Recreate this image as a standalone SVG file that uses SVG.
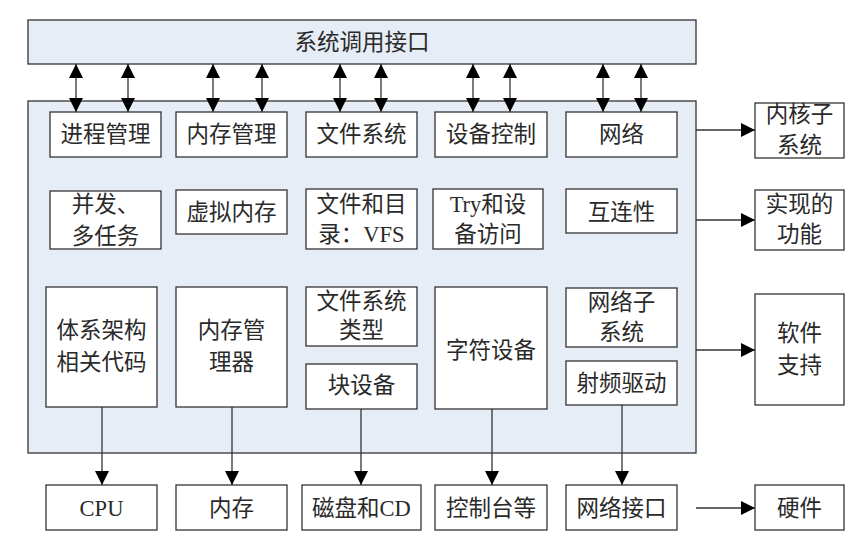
<svg xmlns="http://www.w3.org/2000/svg" width="864" height="542" viewBox="0 0 864 542">
<defs>
<style>
.panel{fill:#e7edf6;stroke:#333;stroke-width:1.3}
.box{fill:#fff;stroke:#333;stroke-width:1.3}
.t{font-family:"Liberation Serif","Noto Sans CJK SC",serif;font-size:22.5px;fill:#2a2a2a;text-anchor:middle;dominant-baseline:central}
.c{stroke:#333;stroke-width:1.3;fill:none}
</style>
<marker id="ah" viewBox="0 0 14 14" refX="14" refY="7" markerWidth="14" markerHeight="14" markerUnits="userSpaceOnUse" orient="auto-start-reverse">
<path d="M0,0 L14,7 L0,14 Z" fill="#000"/>
</marker>
</defs>
<rect width="864" height="542" fill="#fff"/>

<g id="syscall"><rect class="panel" x="28" y="20" width="668" height="44"/><text class="t" x="362" y="42">系统调用接口</text></g>
<g id="kernel"><rect class="panel" x="28" y="101" width="668" height="352"/></g>

<g id="connectors">
<line class="c" x1="76" y1="64" x2="76" y2="112" marker-start="url(#ah)" marker-end="url(#ah)"/>
<line class="c" x1="128" y1="64" x2="128" y2="112" marker-start="url(#ah)" marker-end="url(#ah)"/>
<line class="c" x1="213" y1="64" x2="213" y2="112" marker-start="url(#ah)" marker-end="url(#ah)"/>
<line class="c" x1="262" y1="64" x2="262" y2="112" marker-start="url(#ah)" marker-end="url(#ah)"/>
<line class="c" x1="340" y1="64" x2="340" y2="112" marker-start="url(#ah)" marker-end="url(#ah)"/>
<line class="c" x1="381" y1="64" x2="381" y2="112" marker-start="url(#ah)" marker-end="url(#ah)"/>
<line class="c" x1="473" y1="64" x2="473" y2="112" marker-start="url(#ah)" marker-end="url(#ah)"/>
<line class="c" x1="510" y1="64" x2="510" y2="112" marker-start="url(#ah)" marker-end="url(#ah)"/>
<line class="c" x1="603" y1="64" x2="603" y2="112" marker-start="url(#ah)" marker-end="url(#ah)"/>
<line class="c" x1="641" y1="64" x2="641" y2="112" marker-start="url(#ah)" marker-end="url(#ah)"/>
<line class="c" x1="696" y1="130" x2="755" y2="130" marker-end="url(#ah)"/>
<line class="c" x1="696" y1="220" x2="755" y2="220" marker-end="url(#ah)"/>
<line class="c" x1="696" y1="350" x2="755" y2="350" marker-end="url(#ah)"/>
<line class="c" x1="696" y1="508" x2="755" y2="508" marker-end="url(#ah)"/>
<line class="c" x1="102" y1="407" x2="102" y2="485" marker-end="url(#ah)"/>
<line class="c" x1="232" y1="407" x2="232" y2="485" marker-end="url(#ah)"/>
<line class="c" x1="361" y1="409" x2="361" y2="485" marker-end="url(#ah)"/>
<line class="c" x1="492" y1="409" x2="492" y2="485" marker-end="url(#ah)"/>
<line class="c" x1="622" y1="405" x2="622" y2="485" marker-end="url(#ah)"/>
</g>

<g id="n1"><rect class="box" x="50" y="112" width="111" height="45"/><text class="t" x="105.5" y="134">进程管理</text></g>
<g id="n2"><rect class="box" x="176" y="112" width="111" height="45"/><text class="t" x="231.5" y="134">内存管理</text></g>
<g id="n3"><rect class="box" x="306" y="112" width="111" height="45"/><text class="t" x="361.5" y="134">文件系统</text></g>
<g id="n4"><rect class="box" x="435" y="112" width="112" height="45"/><text class="t" x="491" y="134">设备控制</text></g>
<g id="n5"><rect class="box" x="566" y="112" width="111" height="45"/><text class="t" x="621.5" y="134">网络</text></g>
<g id="r1"><rect class="box" x="755" y="103" width="89" height="55"/><text class="t" x="799.5" y="114">内核子</text><text class="t" x="799.5" y="145">系统</text></g>

<g id="n6"><rect class="box" x="50" y="191" width="111" height="58"/><text class="t" x="105.5" y="204">并发、</text><text class="t" x="105.5" y="236">多任务</text></g>
<g id="n7"><rect class="box" x="176" y="190" width="111" height="44"/><text class="t" x="231.5" y="212">虚拟内存</text></g>
<g id="n8"><rect class="box" x="306" y="189" width="111" height="60"/><text class="t" x="361.5" y="204">文件和目</text><text class="t" x="361.5" y="234">录：VFS</text></g>
<g id="n9"><rect class="box" x="433" y="189" width="110" height="60"/><text class="t" x="488" y="204">Try和设</text><text class="t" x="488" y="234">备访问</text></g>
<g id="n10"><rect class="box" x="566" y="189" width="111" height="44"/><text class="t" x="621.5" y="212">互连性</text></g>
<g id="r2"><rect class="box" x="755" y="190" width="89" height="60"/><text class="t" x="799.5" y="204">实现的</text><text class="t" x="799.5" y="234">功能</text></g>

<g id="n11"><rect class="box" x="46" y="287" width="111" height="120"/><text class="t" x="101.5" y="330">体系架构</text><text class="t" x="101.5" y="362">相关代码</text></g>
<g id="n12"><rect class="box" x="176" y="287" width="111" height="120"/><text class="t" x="231.5" y="330">内存管</text><text class="t" x="231.5" y="362">理器</text></g>
<g id="n13"><rect class="box" x="306" y="287" width="111" height="59"/><text class="t" x="361.5" y="301">文件系统</text><text class="t" x="361.5" y="330">类型</text></g>
<g id="n14"><rect class="box" x="306" y="364" width="111" height="45"/><text class="t" x="361.5" y="385">块设备</text></g>
<g id="n15"><rect class="box" x="435" y="287" width="112" height="122"/><text class="t" x="491" y="350">字符设备</text></g>
<g id="n16"><rect class="box" x="566" y="288" width="111" height="59"/><text class="t" x="621.5" y="302">网络子</text><text class="t" x="621.5" y="332">系统</text></g>
<g id="n17"><rect class="box" x="566" y="361" width="111" height="44"/><text class="t" x="621.5" y="383">射频驱动</text></g>
<g id="r3"><rect class="box" x="755" y="294" width="89" height="111"/><text class="t" x="799.5" y="333">软件</text><text class="t" x="799.5" y="365">支持</text></g>

<g id="b1"><rect class="box" x="46" y="485" width="111" height="45"/><text class="t" x="101.5" y="508">CPU</text></g>
<g id="b2"><rect class="box" x="176" y="485" width="111" height="45"/><text class="t" x="231.5" y="508">内存</text></g>
<g id="b3"><rect class="box" x="302" y="485" width="119" height="45"/><text class="t" x="361.5" y="508">磁盘和CD</text></g>
<g id="b4"><rect class="box" x="435" y="485" width="112" height="45"/><text class="t" x="491" y="508">控制台等</text></g>
<g id="b5"><rect class="box" x="566" y="485" width="111" height="45"/><text class="t" x="621.5" y="508">网络接口</text></g>
<g id="r4"><rect class="box" x="755" y="485" width="89" height="45"/><text class="t" x="799.5" y="508">硬件</text></g>
</svg>
